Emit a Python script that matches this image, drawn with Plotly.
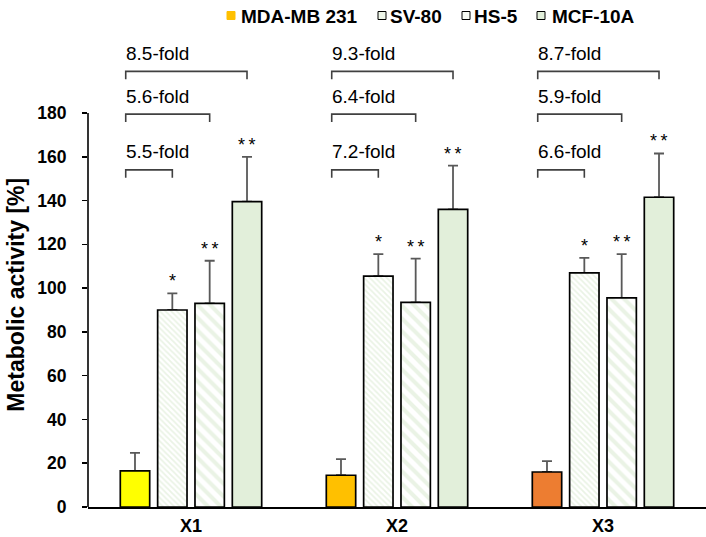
import plotly.graph_objects as go

# ---------------- data ----------------
groups = ["X1", "X2", "X3"]
series = ["MDA-MB 231", "SV-80", "HS-5", "MCF-10A"]

mda = [16.5, 14.5, 16.0]
mda_err = [8.2, 7.4, 5.0]
sv80 = [90.0, 105.5, 107.0]
sv80_err = [7.6, 10.0, 6.8]
hs5 = [93.0, 93.5, 95.5]
hs5_err = [19.5, 20.0, 20.0]
mcf = [139.5, 136.0, 141.5]
mcf_err = [20.5, 20.0, 20.0]

sv80_sig = ["*", "*", "*"]
hs5_sig = ["*\u2009*", "*\u2009*", "*\u2009*"]
mcf_sig = ["*\u2009*", "*\u2009*", "*\u2009*"]

# fold-change labels per group: vs SV-80, vs HS-5, vs MCF-10A
fold_sv80 = ["5.5-fold", "7.2-fold", "6.6-fold"]
fold_hs5 = ["5.6-fold", "6.4-fold", "5.9-fold"]
fold_mcf = ["8.5-fold", "9.3-fold", "8.7-fold"]
bracket_levels = [154, 179.5, 199]     # y value of bracket line (SV, HS, MCF)

yticks = [0, 20, 40, 60, 80, 100, 120, 140, 160, 180]

# ---------------- styles ----------------
mda_colors = ["#FFFF00", "#FFC000", "#ED7D31"]
green = "#E2EFDA"
stripe = "#D6E8CC"
err_color = "#595959"
FONT = "Arial, Liberation Sans, sans-serif"

W, H = 706, 537
ML, MR, MT, MB = 88, 0, 30, 30
plot_w = W - ML - MR
plot_h = H - MT - MB
y_max = plot_h / ((507 - 113) / 180)

bargap = 0.275
bargroupgap = 0.213
n_slots = 4
slot = (1 - bargap) / n_slots
slot_centers = [-(1 - bargap) / 2 + slot * (i + 0.5) for i in range(n_slots)]

x = list(range(len(groups)))

fig = go.Figure()

values = [mda, sv80, hs5, mcf]
errors = [mda_err, sv80_err, hs5_err, mcf_err]
markers = [
    dict(color=mda_colors, line=dict(color="black", width=1.7)),
    dict(color="white", line=dict(color="black", width=1.7),
         pattern=dict(shape="\\", fgcolor=stripe, bgcolor="white", size=4, solidity=0.45)),
    dict(color="white", line=dict(color="black", width=1.7),
         pattern=dict(shape="\\", fgcolor=stripe, bgcolor="white", size=9, solidity=0.45)),
    dict(color=green, line=dict(color="black", width=1.7)),
]

for i, name in enumerate(series):
    # error bar carrier (drawn first, hidden under the visible bar outline)
    fig.add_trace(go.Bar(
        x=x, y=values[i], offsetgroup=str(i), showlegend=False, hoverinfo="skip",
        marker=dict(color="rgba(0,0,0,0)", line=dict(width=0)),
        error_y=dict(type="data", symmetric=False, array=errors[i],
                     arrayminus=[0] * len(groups), color=err_color,
                     thickness=1.8, width=5),
    ))
    fig.add_trace(go.Bar(
        x=x, y=values[i], offsetgroup=str(i), name=name, showlegend=False,
        marker=markers[i],
    ))

annotations = []
# significance stars
for k, (vals, errs, sig) in enumerate([(sv80, sv80_err, sv80_sig),
                                       (hs5, hs5_err, hs5_sig),
                                       (mcf, mcf_err, mcf_sig)]):
    for g in range(len(groups)):
        annotations.append(dict(
            x=x[g] + slot_centers[k + 1], y=vals[g] + errs[g], xref="x", yref="y",
            text=sig[g], showarrow=False, yanchor="bottom", xanchor="center",
            yshift=0, font=dict(family=FONT, size=18, color="black")))

# fold brackets
shapes = []
tick_drop = 3.6
start_off = -0.045
for g in range(len(groups)):
    folds = [fold_sv80[g], fold_hs5[g], fold_mcf[g]]
    x0 = x[g] + slot_centers[0] + start_off
    for k in range(3):
        x1 = x[g] + slot_centers[k + 1]
        yl = bracket_levels[k]
        shapes.append(dict(
            type="path", xref="x", yref="y",
            path=f"M {x0},{yl - tick_drop} L {x0},{yl} L {x1},{yl} L {x1},{yl - tick_drop}",
            line=dict(color="#404040", width=1.6)))
        annotations.append(dict(
            x=x0, y=yl, xref="x", yref="y", text=folds[k], showarrow=False,
            xanchor="left", yanchor="middle", yshift=18, xshift=-2,
            font=dict(family=FONT, size=19, color="black")))

# category labels
for g in range(len(groups)):
    annotations.append(dict(
        x=x[g], y=0, xref="x", yref="paper", text=groups[g], showarrow=False,
        xanchor="center", yanchor="top", yshift=-7,
        font=dict(family=FONT, size=18, color="black", weight="bold")))

# y axis line only up to 180
shapes.append(dict(type="line", xref="paper", yref="y", x0=0, x1=0,
                   y0=0, y1=yticks[-1], line=dict(color="black", width=1.6)))

# y axis title
annotations.append(dict(
    x=0, y=yticks[-1] / 2 + 7, xref="paper", yref="y", xshift=16 - ML,
    text="Metabolic activity [%]", showarrow=False, textangle=-90,
    xanchor="center", yanchor="middle",
    font=dict(family=FONT, size=23, color="black", weight="bold")))

# custom legend (small squares)
def px_x(px):
    return (px - ML) / plot_w

def px_y(py):
    return (H - MB - py) / plot_h

legend_sq = [231, 382, 466, 541]
legend_txt = [239, 388, 472, 550]
legend_fill = ["#FFC000", "#EEF6E9", "#F7FBF4", green]
for i, name in enumerate(series):
    shapes.append(dict(
        type="rect", xref="paper", yref="paper",
        x0=px_x(legend_sq[i] - 4), x1=px_x(legend_sq[i] + 4),
        y0=px_y(19.5), y1=px_y(11.5),
        fillcolor=legend_fill[i],
        line=dict(color="black" if i > 0 else legend_fill[i], width=1)))
    annotations.append(dict(
        x=px_x(legend_txt[i]), y=px_y(16.5), xref="paper", yref="paper",
        text=name, showarrow=False, xanchor="left", yanchor="middle",
        font=dict(family=FONT, size=19, color="black", weight="bold")))

fig.update_layout(
    width=W, height=H,
    margin=dict(l=ML, r=MR, t=MT, b=MB, pad=0),
    paper_bgcolor="white", plot_bgcolor="white",
    barmode="group", bargap=bargap, bargroupgap=bargroupgap,
    showlegend=False,
    font=dict(family=FONT, color="black"),
    xaxis=dict(range=[-0.5, len(groups) - 0.5], tickvals=x, showticklabels=False,
               showline=True, linecolor="black", linewidth=2, ticks="",
               showgrid=False, zeroline=False),
    yaxis=dict(range=[0, y_max], tickvals=yticks, showline=False, showgrid=False,
               zeroline=False, ticks="outside", ticklen=5, tickwidth=1.6,
               tickcolor="black", ticklabelstandoff=12,
               tickfont=dict(family=FONT, size=17.5, color="black", weight="bold")),
    shapes=shapes,
    annotations=annotations,
)

fig.write_html(
    "out.html",
    config={"displayModeBar": False, "staticPlot": True},
    post_script="document.body.style.margin='0px';document.body.style.overflow='hidden';",
)
